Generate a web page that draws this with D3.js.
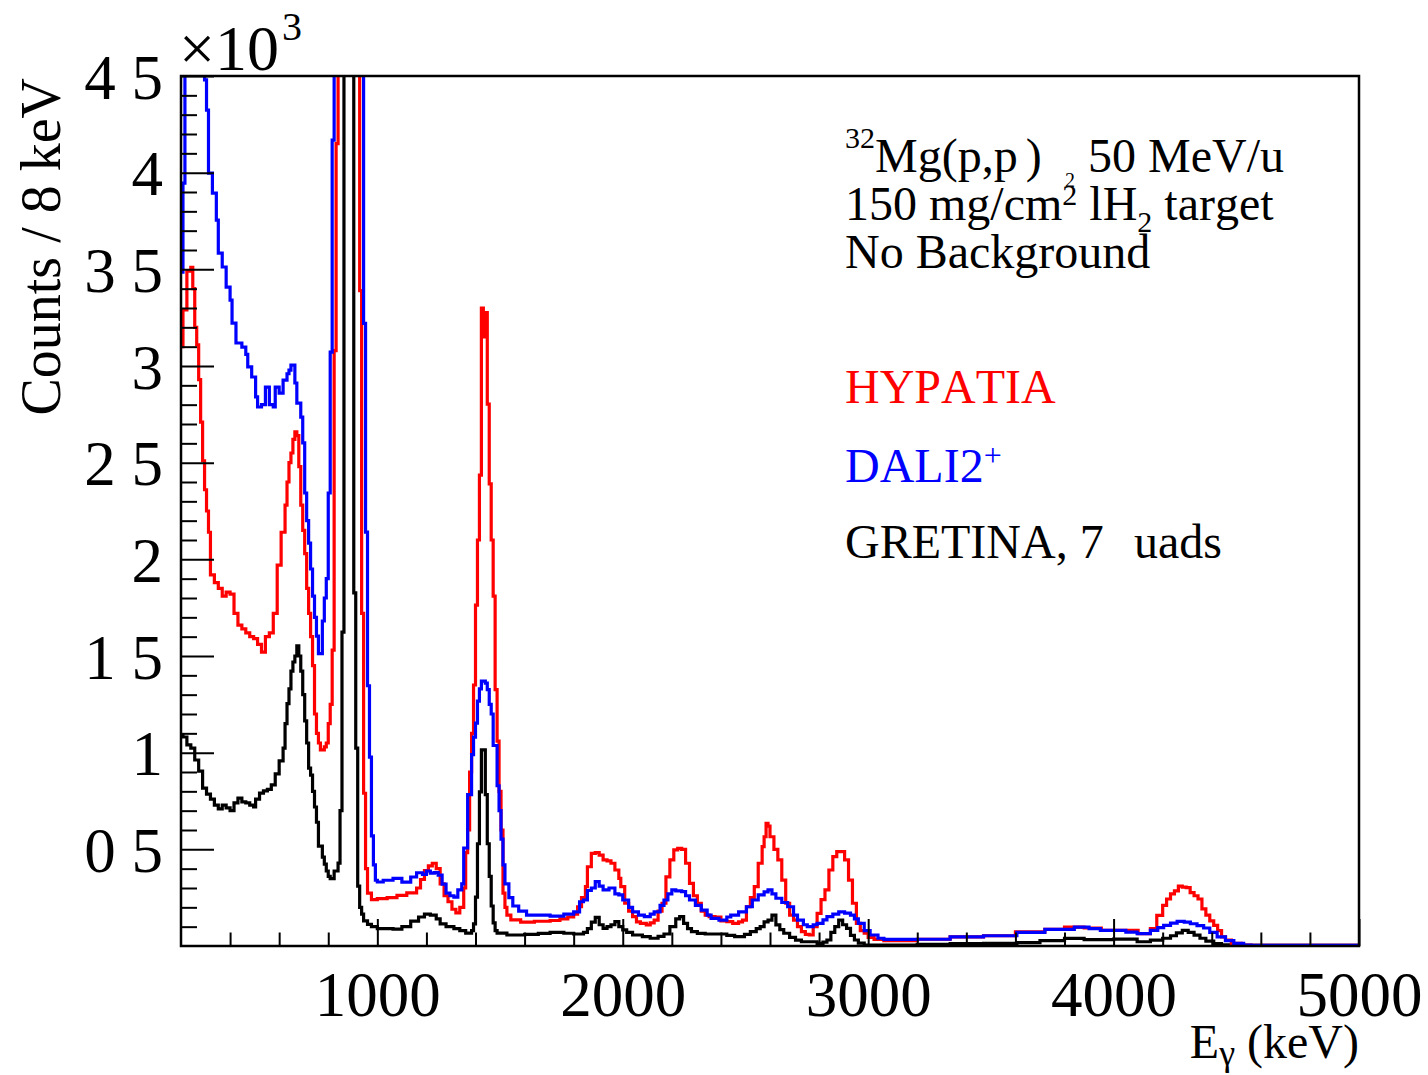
<!DOCTYPE html>
<html><head><meta charset="utf-8">
<script src="https://cdn.jsdelivr.net/npm/d3@7/dist/d3.min.js"></script>
<style>
body{margin:0;background:#fff}
svg{display:block}
text{font-family:"Liberation Serif","Times New Roman",serif;font-kerning:none;font-feature-settings:"kern" 0}
</style>
</head><body>
<svg id="chart" width="1428" height="1075"></svg>
<script>
// ---- axis definitions ----
const xDomain = [200, 5000];
const yDomain = [0, 4500];
const xMajorTicks = [1000, 2000, 3000, 4000, 5000];
const xMinorTicks = [400, 600, 800, 1200, 1400, 1600, 1800, 2200, 2400, 2600, 2800, 3200, 3400, 3600, 3800, 4200, 4400, 4600, 4800];
const yMajorTicks = [500, 1000, 1500, 2000, 2500, 3000, 3500, 4000, 4500];
const yTickLabels = ["0 5", "1", "1 5", "2", "2 5", "3", "3 5", "4", "4 5"];
const yMinorTicks = d3.range(100, 4500, 100).filter(v => v % 500 !== 0);
const seriesNames = ["HYPATIA", "DALI2", "GRETINA, 7"];

// ---- series: [bin low edge (keV), counts per 8 keV] ----
const hypatia = [
[200,3100],[208,3290],[224,3490],[240,3510],[248,3400],[256,3200],[264,3110],[272,2930],[280,2710],[288,2510],
[296,2360],[304,2250],[312,2140],[320,1920],[336,1880],[352,1850],[368,1810],[384,1830],[400,1820],[416,1720],
[432,1660],[448,1640],[464,1620],[480,1600],[496,1590],[512,1560],[528,1520],[544,1600],[560,1620],[576,1720],
[592,1970],[608,2140],[624,2280],[632,2400],[640,2500],[648,2550],[656,2620],[664,2660],[672,2640],[680,2480],
[688,2280],[696,2150],[704,2030],[712,1850],[720,1720],[728,1600],[736,1450],[744,1200],[752,1100],[760,1050],
[768,1014],[784,1030],[792,1050],[800,1150],[808,1250],[816,1530],[824,3080],[832,4150],[840,6000],[928,3390],
[936,1720],[944,790],[952,400],[960,274],[976,240],[1000,245],[1040,250],[1080,262],[1120,275],[1160,300],
[1176,344],[1192,390],[1208,414],[1224,428],[1240,400],[1256,321],[1272,260],[1288,229],[1304,190],[1320,171],
[1336,200],[1352,300],[1360,483],[1368,600],[1376,900],[1384,1100],[1392,1350],[1400,1763],[1408,2100],[1416,2436],
[1424,3300],[1432,3150],[1440,3276],[1448,2803],[1456,2390],[1464,2100],[1472,1810],[1480,1326],[1488,1060],[1496,800],
[1504,600],[1512,274],[1520,200],[1528,160],[1544,135],[1584,124],[1640,128],[1704,132],[1744,140],[1776,150],
[1800,165],[1816,203],[1832,250],[1848,307],[1856,410],[1872,479],[1888,483],[1904,470],[1920,445],[1936,440],
[1952,428],[1968,393],[1984,350],[1992,307],[2008,221],[2024,180],[2040,152],[2056,125],[2072,117],[2096,109],
[2112,120],[2128,134],[2144,180],[2160,221],[2176,358],[2192,445],[2208,497],[2224,505],[2240,500],[2256,428],
[2272,324],[2288,260],[2304,221],[2320,180],[2336,160],[2352,152],[2376,150],[2400,130],[2424,126],[2448,117],
[2472,125],[2488,134],[2504,203],[2520,250],[2536,307],[2552,428],[2568,514],[2576,565],[2584,634],[2592,620],
[2600,565],[2616,500],[2632,445],[2648,341],[2664,221],[2680,160],[2696,134],[2712,100],[2728,74],[2744,60],
[2760,57],[2776,100],[2792,169],[2808,240],[2824,290],[2840,393],[2856,462],[2872,488],[2888,488],[2904,445],
[2920,341],[2936,221],[2952,117],[2968,80],[2984,66],[3000,45],[3024,34],[3064,28],[3200,35],[3334,47],
[3470,53],[3600,73],[3720,86],[3800,98],[3880,93],[3950,81],[4020,81],[4100,64],[4150,90],[4176,158],
[4200,210],[4216,243],[4232,270],[4248,285],[4264,310],[4280,305],[4296,302],[4312,276],[4328,260],[4344,243],
[4360,192],[4376,160],[4392,130],[4408,107],[4424,80],[4440,47],[4456,30],[4480,14],[4520,5],[4560,3]
];
const dali2 = [
[200,3486],[208,3946],[216,6000],[296,4480],[304,4324],[312,3998],[328,3894],[344,3755],[352,3584],[368,3512],
[384,3408],[400,3341],[408,3222],[424,3119],[448,3098],[464,3060],[472,2995],[488,2943],[504,2840],[512,2788],
[528,2800],[544,2891],[560,2800],[576,2788],[584,2891],[600,2860],[616,2927],[632,2960],[640,2979],[648,3005],
[664,2912],[672,2808],[688,2736],[696,2602],[704,2343],[712,2200],[720,2084],[728,1950],[736,1810],[744,1700],
[752,1603],[760,1512],[776,1681],[784,1800],[792,1900],[800,2343],[808,3072],[816,4168],[824,6000],[944,3220],
[952,2141],[960,1346],[968,977],[976,570],[984,420],[992,340],[1000,331],[1024,340],[1064,350],[1100,330],
[1136,357],[1160,379],[1184,370],[1200,388],[1216,377],[1232,380],[1248,367],[1264,320],[1280,274],[1296,260],
[1312,253],[1328,290],[1344,321],[1352,507],[1368,783],[1384,990],[1392,1080],[1400,1153],[1408,1267],[1416,1330],
[1424,1370],[1440,1360],[1448,1326],[1456,1250],[1464,1200],[1472,1037],[1488,829],[1496,700],[1504,553],[1512,420],
[1520,321],[1536,250],[1552,207],[1576,180],[1608,160],[1704,155],[1760,165],[1800,177],[1824,229],[1840,238],
[1856,287],[1872,300],[1888,333],[1904,310],[1920,290],[1944,300],[1968,270],[1984,264],[2000,238],[2024,200],
[2040,177],[2064,160],[2088,152],[2112,165],[2128,177],[2152,210],[2168,238],[2184,270],[2200,290],[2216,285],
[2240,281],[2256,260],[2272,238],[2296,210],[2320,186],[2344,160],[2360,143],[2392,134],[2424,150],[2440,160],
[2472,177],[2504,203],[2528,238],[2552,264],[2576,280],[2592,290],[2608,270],[2624,247],[2648,225],[2672,203],
[2696,160],[2712,134],[2736,110],[2752,100],[2776,110],[2792,117],[2816,135],[2832,152],[2856,165],[2880,177],
[2904,170],[2928,160],[2944,140],[2960,117],[2984,80],[3008,57],[3040,40],[3064,34],[3200,35],[3334,47],
[3470,53],[3606,70],[3720,86],[3840,98],[3900,90],[3946,81],[4050,72],[4096,64],[4150,81],[4180,95],
[4204,107],[4232,118],[4259,127],[4288,124],[4313,115],[4340,105],[4367,93],[4392,70],[4422,47],[4456,28],
[4490,14],[4530,5],[4560,3]
];
const gretina = [
[200,1088],[208,1081],[224,1040],[240,1024],[256,962],[272,905],[288,817],[304,786],[320,760],[336,729],
[352,709],[368,729],[384,714],[400,700],[416,740],[432,765],[448,745],[464,740],[480,729],[496,719],
[504,760],[520,791],[536,802],[552,810],[568,833],[584,890],[600,958],[616,1024],[624,1150],[632,1254],
[640,1330],[648,1422],[656,1469],[664,1500],[672,1552],[680,1500],[688,1422],[696,1300],[704,1164],[712,1050],
[720,920],[728,884],[736,800],[744,719],[752,640],[760,517],[776,460],[784,424],[792,388],[800,360],
[808,349],[824,388],[840,429],[848,700],[856,1624],[864,6000],[904,1826],[912,1024],[920,310],[928,200],
[936,165],[944,130],[960,112],[976,100],[1000,90],[1064,87],[1100,100],[1136,129],[1168,150],[1192,165],
[1216,160],[1240,140],[1256,114],[1280,100],[1312,90],[1336,80],[1360,67],[1384,80],[1392,114],[1400,253],
[1408,529],[1416,797],[1424,1014],[1440,783],[1448,529],[1456,360],[1464,207],[1472,120],[1480,80],[1488,67],
[1528,57],[1600,60],[1656,65],[1704,70],[1760,66],[1800,62],[1840,70],[1856,90],[1872,124],[1888,148],
[1904,110],[1920,91],[1936,100],[1952,110],[1968,126],[1984,100],[2000,83],[2016,70],[2040,57],[2080,48],
[2112,40],[2144,50],[2168,62],[2192,100],[2216,140],[2232,152],[2248,117],[2264,90],[2280,74],[2304,65],
[2336,62],[2384,62],[2424,55],[2456,48],[2496,60],[2520,74],[2544,90],[2560,100],[2576,125],[2592,134],
[2608,160],[2624,109],[2640,85],[2656,66],[2680,45],[2704,30],[2728,22],[2792,14],[2816,20],[2832,31],
[2848,70],[2864,100],[2880,134],[2896,110],[2912,91],[2928,55],[2944,31],[2960,15],[2984,5],[3200,8],
[3334,13],[3470,14],[3606,17],[3700,28],[3800,39],[3880,33],[4000,36],[4096,22],[4150,30],[4200,40],
[4232,53],[4256,68],[4280,81],[4304,70],[4328,56],[4352,40],[4376,25],[4408,12],[4440,6],[4480,3]
];

// ---- layout ----
const frame = {left: 181, top: 76, right: 1359, bottom: 946};
const svg = d3.select("#chart");
svg.append("rect").attr("width", 1428).attr("height", 1075).attr("fill", "#fff");

const x = d3.scaleLinear().domain(xDomain).range([frame.left, frame.right]);
const y = d3.scaleLinear().domain(yDomain).range([frame.bottom, frame.top]);

svg.append("clipPath").attr("id", "clipFrame")
  .append("rect").attr("x", frame.left).attr("y", frame.top)
  .attr("width", frame.right - frame.left).attr("height", frame.bottom - frame.top);

const line = d3.line().x(d => x(d[0])).y(d => y(d[1])).curve(d3.curveStepAfter);
const closeSeries = data => data.concat([[xDomain[1], data[data.length - 1][1]]]);

const plot = svg.append("g").attr("clip-path", "url(#clipFrame)");
[[gretina, "#000000"], [hypatia, "#ff0000"], [dali2, "#0000ff"]].forEach(([data, color]) => {
  plot.append("path").datum(closeSeries(data))
    .attr("d", line).attr("fill", "none")
    .attr("stroke", color).attr("stroke-width", 3.2).attr("stroke-linejoin", "miter");
});

// ---- axes ----
const font = "'Liberation Serif','Times New Roman',serif";
function styleAxis(g) {
  g.attr("font-family", font);
  g.select(".domain").remove();
  g.selectAll(".tick line").attr("stroke", "#000").attr("stroke-width", 2);
  g.selectAll(".tick text").attr("fill", "#000");
}
// x minor ticks
svg.append("g").attr("transform", `translate(0,${frame.bottom})`)
  .call(d3.axisBottom(x).tickValues(xMinorTicks).tickSize(-13.5).tickFormat(""))
  .call(styleAxis);
// x major ticks + labels
svg.append("g").attr("transform", `translate(0,${frame.bottom})`)
  .call(d3.axisBottom(x).tickValues(xMajorTicks).tickSize(-27).tickPadding(25).tickFormat(d3.format("d")))
  .call(styleAxis)
  .call(g => g.attr("font-size", 63));
// y minor ticks
svg.append("g").attr("transform", `translate(${frame.left},0)`)
  .call(d3.axisLeft(y).tickValues(yMinorTicks).tickSize(-16).tickFormat(""))
  .call(styleAxis);
// y major ticks + labels
svg.append("g").attr("transform", `translate(${frame.left},0)`)
  .call(d3.axisLeft(y).tickValues(yMajorTicks).tickSize(-33).tickPadding(18)
        .tickFormat((d, i) => yTickLabels[i]))
  .call(styleAxis)
  .call(g => g.attr("font-size", 63))
  .call(g => g.selectAll(".tick text").attr("dy", "0.35em"));

// frame
svg.append("rect").attr("x", frame.left).attr("y", frame.top)
  .attr("width", frame.right - frame.left).attr("height", frame.bottom - frame.top)
  .attr("fill", "none").attr("stroke", "#000").attr("stroke-width", 2.5);

// exponent label  x10^3
const expo = svg.append("text").attr("x", 179).attr("y", 70).attr("font-size", 64).attr("fill", "#000");
expo.append("tspan").text("\u00d710");
expo.append("tspan").attr("font-size", 40).attr("dy", -30).attr("dx", 3).text("3");

// y title
svg.append("text")
  .attr("transform", `translate(60,78) rotate(-90)`)
  .attr("text-anchor", "end").attr("font-size", 56).attr("fill", "#000")
  .text("Counts / 8 keV");

// x title
const xt = svg.append("text").attr("x", 1359).attr("y", 1058).attr("text-anchor", "end")
  .attr("font-size", 48).attr("fill", "#000");
xt.append("tspan").text("E");
xt.append("tspan").attr("font-size", 36).attr("dy", 7).text("\u03b3");
xt.append("tspan").attr("dy", -7).text(" (keV)");

// ---- annotation / legend ----
const ann = svg.append("g").attr("font-size", 48).attr("fill", "#000");
const l1 = ann.append("text").attr("x", 845).attr("y", 172);
l1.append("tspan").attr("font-size", 30).attr("dy", -24).text("32");
l1.append("tspan").attr("dy", 24).text("Mg(p,p");
l1.append("tspan").attr("dx", 8).text(")");
l1.append("tspan").attr("x", 1065).attr("font-size", 20).attr("dy", 15).text("2");
l1.append("tspan").attr("x", 1088).attr("dy", -15).text("50 MeV/u");

const l2 = ann.append("text").attr("x", 845).attr("y", 220);
l2.append("tspan").text("150 mg/cm");
l2.append("tspan").attr("font-size", 30).attr("dy", -15).text("2");
l2.append("tspan").attr("dy", 15).text(" lH");
l2.append("tspan").attr("font-size", 30).attr("dy", 12).text("2");
l2.append("tspan").attr("dy", -12).text(" target");

ann.append("text").attr("x", 845).attr("y", 268).text("No Background");

ann.append("text").attr("x", 845).attr("y", 403).attr("fill", "#ff0000").text(seriesNames[0]);
const dl = ann.append("text").attr("x", 845).attr("y", 482).attr("fill", "#0000ff");
dl.append("tspan").text(seriesNames[1]);
dl.append("tspan").attr("font-size", 32).attr("dy", -16).text("+");
const gl = ann.append("text").attr("x", 845).attr("y", 558);
gl.append("tspan").text(seriesNames[2]);
gl.append("tspan").attr("x", 1134).text("uads");
</script>
</body></html>
